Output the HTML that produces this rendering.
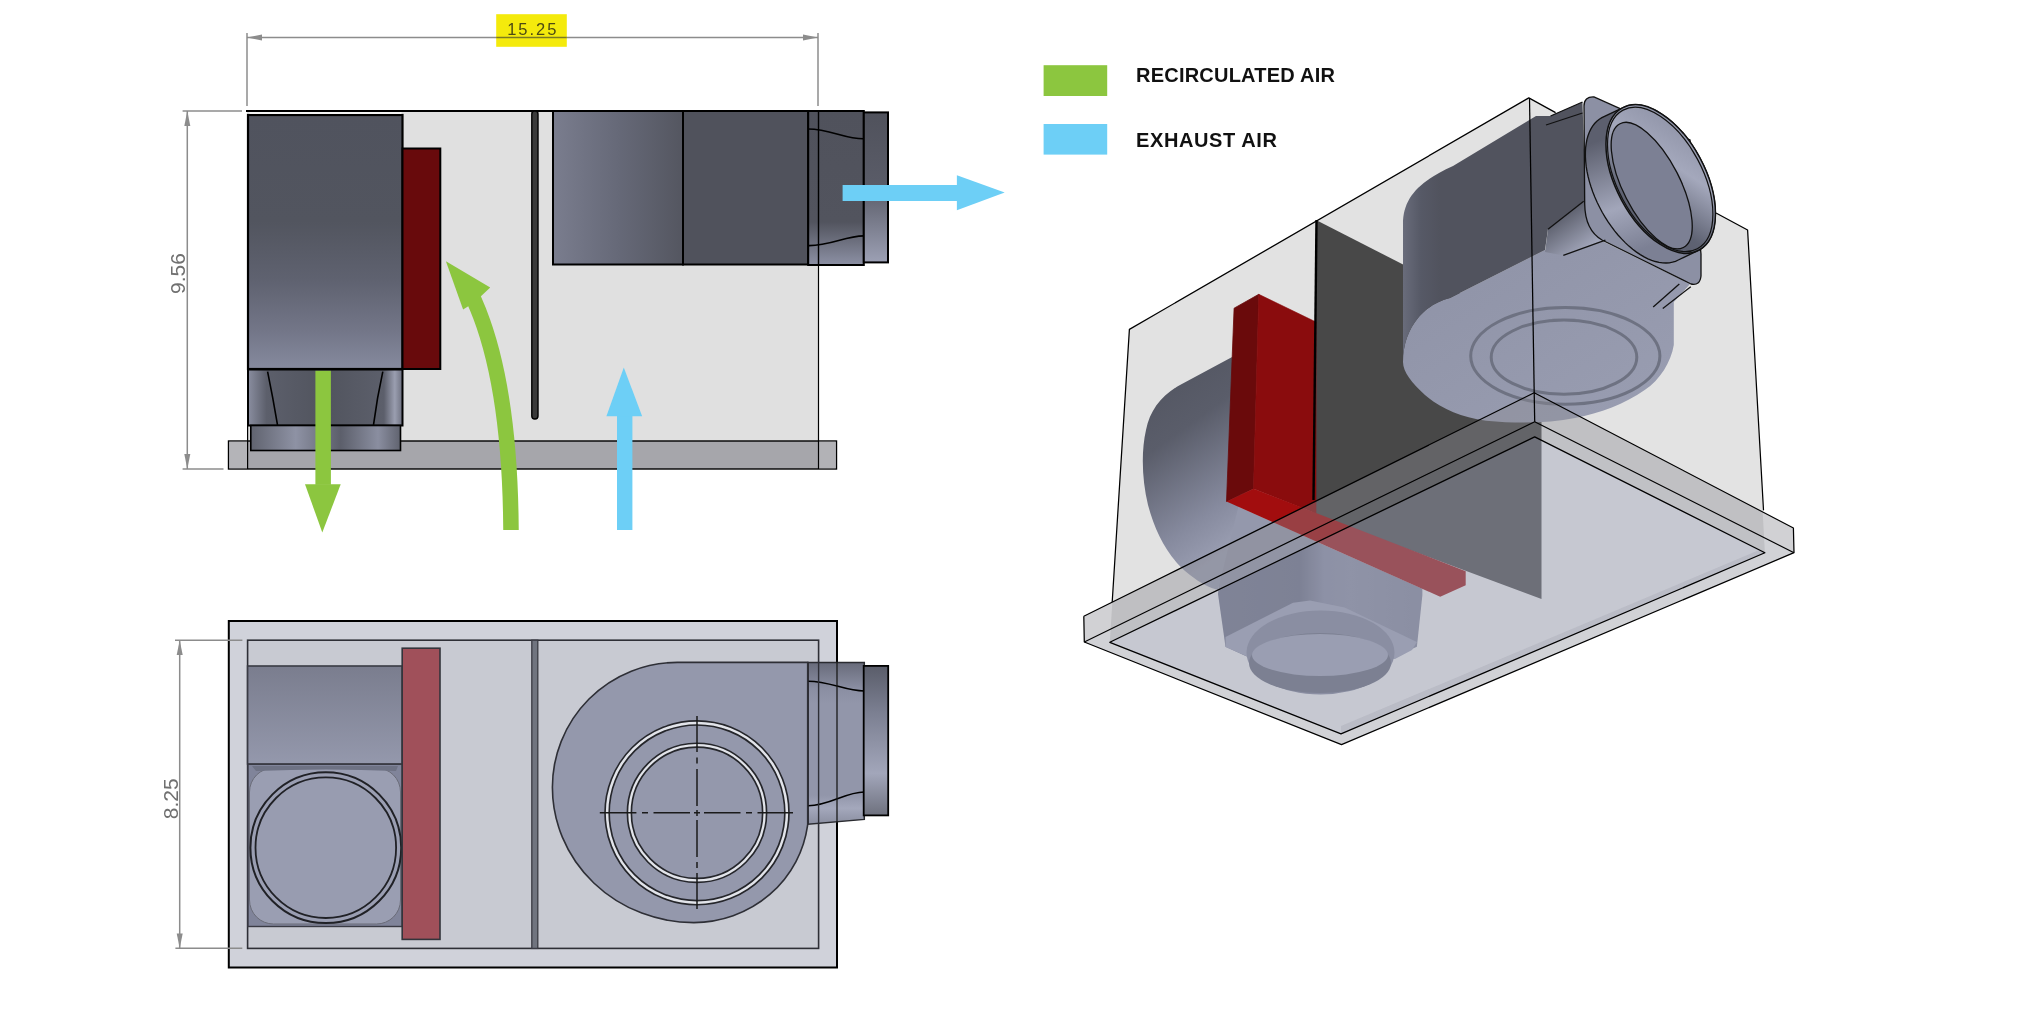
<!DOCTYPE html>
<html><head><meta charset="utf-8">
<style>
html,body{margin:0;padding:0;background:#fff;}
body{width:2040px;height:1020px;overflow:hidden;font-family:"Liberation Sans",sans-serif;}
svg{display:block;will-change:transform;}

.dim{stroke:#8c8c8c;stroke-width:1.5;fill:none;}
.ah{fill:#8c8c8c;}
.k{stroke:#000;fill:none;}
.dimt{font-family:"Liberation Sans",sans-serif;font-size:21px;fill:#707070;}
.leg{font-family:"Liberation Sans",sans-serif;font-size:20px;font-weight:bold;fill:#111;letter-spacing:0.4px;}
</style></head>
<body>
<svg width="2040" height="1020" viewBox="0 0 2040 1020">
<defs>
 <linearGradient id="motorV" x1="0" y1="0" x2="0" y2="1">
  <stop offset="0" stop-color="#50535e"/>
  <stop offset="0.42" stop-color="#52555f"/>
  <stop offset="0.65" stop-color="#5f6270"/>
  <stop offset="0.85" stop-color="#737688"/>
  <stop offset="1" stop-color="#868a9e"/>
 </linearGradient>
 <linearGradient id="fanL" x1="0" y1="0" x2="1" y2="0">
  <stop offset="0" stop-color="#7a7d8e"/>
  <stop offset="0.5" stop-color="#666978"/>
  <stop offset="1" stop-color="#545660"/>
 </linearGradient>
 <linearGradient id="nozV" x1="0" y1="0" x2="0" y2="1">
  <stop offset="0" stop-color="#50525c"/>
  <stop offset="0.72" stop-color="#52545e"/>
  <stop offset="1" stop-color="#8c90a4"/>
 </linearGradient>
 <linearGradient id="flV" x1="0" y1="0" x2="0" y2="1">
  <stop offset="0" stop-color="#50525c"/>
  <stop offset="0.5" stop-color="#5a5c68"/>
  <stop offset="1" stop-color="#9ca0b4"/>
 </linearGradient>
 <linearGradient id="nz1" x1="0" y1="0" x2="1" y2="0">
  <stop offset="0" stop-color="#8a8ea0"/>
  <stop offset="0.12" stop-color="#5c5f6b"/>
  <stop offset="0.5" stop-color="#51545e"/>
  <stop offset="0.88" stop-color="#5c5f6b"/>
  <stop offset="0.95" stop-color="#9a9eb0"/>
  <stop offset="1" stop-color="#6e7180"/>
 </linearGradient>
 <linearGradient id="nz2" x1="0" y1="0" x2="1" y2="0">
  <stop offset="0" stop-color="#60636f"/>
  <stop offset="0.3" stop-color="#8e92a4"/>
  <stop offset="0.6" stop-color="#5c5f6b"/>
  <stop offset="0.85" stop-color="#8a8ea0"/>
  <stop offset="1" stop-color="#60636f"/>
 </linearGradient>
 <linearGradient id="bmotor" x1="0" y1="0" x2="0" y2="1">
  <stop offset="0" stop-color="#7a7d8e"/>
  <stop offset="1" stop-color="#9498ac"/>
 </linearGradient>
 <linearGradient id="bfl" x1="0" y1="0" x2="0" y2="1">
  <stop offset="0" stop-color="#5a5d6a"/>
  <stop offset="0.3" stop-color="#7a7e90"/>
  <stop offset="0.72" stop-color="#a2a6ba"/>
  <stop offset="1" stop-color="#6e717e"/>
 </linearGradient>
 <linearGradient id="bnozV" x1="0" y1="0" x2="0" y2="1">
  <stop offset="0" stop-color="#686b7a"/>
  <stop offset="0.16" stop-color="#8a8ea2"/>
  <stop offset="0.25" stop-color="#9296aa"/>
  <stop offset="0.82" stop-color="#9296aa"/>
  <stop offset="0.9" stop-color="#a4a8bc"/>
  <stop offset="1" stop-color="#8a8ea0"/>
 </linearGradient>
</defs>

<!-- ================= SIDE VIEW ================= -->
<g id="side">
 <!-- dimension 15.25 -->
 <line class="dim" x1="247" y1="33" x2="247" y2="106"/>
 <line class="dim" x1="818" y1="33" x2="818" y2="106"/>
 <line class="dim" x1="247" y1="37.5" x2="818" y2="37.5"/>
 <polygon class="ah" points="247,37.5 262,34.5 262,40.5"/>
 <polygon class="ah" points="818,37.5 803,34.5 803,40.5"/>
 <rect x="496.2" y="14.2" width="70.6" height="32.6" fill="#f4ea0c"/>
 <line x1="496.2" y1="37.5" x2="566.8" y2="37.5" stroke="#7c7a20" stroke-width="1.5"/>
 <text x="532.8" y="34.7" text-anchor="middle" font-size="16.5" letter-spacing="2" fill="#4c4a14" font-family="Liberation Sans, sans-serif">15.25</text>

 <!-- dimension 9.56 -->
 <line class="dim" x1="182.6" y1="111" x2="242" y2="111"/>
 <line class="dim" x1="182.6" y1="469" x2="223.5" y2="469"/>
 <line class="dim" x1="187.3" y1="111" x2="187.3" y2="469"/>
 <polygon class="ah" points="187.3,111 184.3,126 190.3,126"/>
 <polygon class="ah" points="187.3,469 184.3,454 190.3,454"/>
 <text class="dimt" transform="translate(185.2,273.6) rotate(-90)" text-anchor="middle">9.56</text>

 <!-- box body -->
 <rect x="247" y="111" width="571.5" height="330" fill="#e0e0e0"/>
 <line x1="818.5" y1="111" x2="818.5" y2="441" stroke="#000" stroke-width="1.2"/>
 <line x1="246" y1="111" x2="864" y2="111" stroke="#000" stroke-width="2.2"/>

 <!-- base plate -->
 <rect x="228.5" y="441" width="608" height="28" fill="#a6a6ab" stroke="#000" stroke-width="1.4"/>
 <rect x="229.2" y="441.7" width="18" height="26.6" fill="#b4b4b8"/>
 <rect x="818.5" y="441.7" width="17.3" height="26.6" fill="#b2b2b6"/>
 <line x1="818.5" y1="441" x2="818.5" y2="469" stroke="#000" stroke-width="1.2"/>

 <!-- motor -->
 <rect x="248" y="115" width="154.5" height="254" fill="url(#motorV)" stroke="#000" stroke-width="2.2"/>
 <rect x="249.5" y="112" width="152" height="2" fill="#f4f4f4"/>
 <!-- red filter -->
 <rect x="402.5" y="148.5" width="37.8" height="220.5" fill="#680a0c" stroke="#000" stroke-width="2"/>
 <!-- motor nozzle -->
 <rect x="248" y="369.5" width="154.5" height="56" fill="url(#nz1)" stroke="#000" stroke-width="2"/>
 <path d="M267.6,371.6 Q273,398 277.5,424.8 M382.8,371.6 Q377,398 373.5,424.8" class="k" stroke-width="1.6"/>
 <rect x="250.8" y="425.5" width="149.7" height="25" fill="url(#nz2)" stroke="#000" stroke-width="1.6"/>
 <line x1="247.6" y1="425" x2="247.6" y2="469" stroke="#000" stroke-width="1.2"/>

 <!-- divider -->
 <rect x="531.8" y="111" width="6.2" height="308" rx="3" fill="#3a3a3a" stroke="#000" stroke-width="1.4"/>

 <!-- fan housing -->
 <rect x="553" y="111" width="130" height="153.5" fill="url(#fanL)" stroke="#000" stroke-width="2"/>
 <rect x="683" y="111" width="125.2" height="153.5" fill="#50525c" stroke="#000" stroke-width="2"/>
 <!-- nozzle -->
 <rect x="808.2" y="111" width="55.6" height="154" fill="url(#nozV)" stroke="#000" stroke-width="2"/>
 <path d="M808.2,129 C830,129 845,139 863.8,138.8 M808.2,245.6 C830,246 845,236 863.8,235.9" class="k" stroke-width="1.6"/>
 <line x1="818.5" y1="111" x2="818.5" y2="265" stroke="#000" stroke-width="1.4"/>
 <rect x="863.8" y="112.4" width="24.2" height="150" fill="url(#flV)" stroke="#000" stroke-width="2"/>
</g>

<!-- arrows side view -->
<g id="arrows">
 <rect x="315.4" y="370.8" width="15.5" height="114" fill="#8cc63f"/>
 <polygon points="305,484.3 340.7,484.3 322.3,532.6" fill="#8cc63f"/>
 <path d="M511,530 Q510,380 474,300 L471,293.5" fill="none" stroke="#8cc63f" stroke-width="15.5"/>
 <polygon points="445.9,261.2 490.2,287.5 481.2,296 467.5,306.7 463.1,309.4" fill="#8cc63f"/>
 <rect x="617" y="415" width="15.4" height="115" fill="#6dcff6"/>
 <polygon points="606.4,416.2 642.2,416.2 623.8,367.6" fill="#6dcff6"/>
 <rect x="842.6" y="185" width="115" height="16" fill="#6dcff6"/>
 <polygon points="956.9,175.2 956.9,210.3 1004.7,192.4" fill="#6dcff6"/>
</g>

<!-- ================= BOTTOM VIEW ================= -->
<g id="bottom">
 <line class="dim" x1="179.7" y1="640.2" x2="179.7" y2="948.3"/>
 <polygon class="ah" points="179.7,640.2 176.7,655 182.7,655"/>
 <polygon class="ah" points="179.7,948.3 176.7,933.5 182.7,933.5"/>
 <text class="dimt" transform="translate(177.8,798.8) rotate(-90)" text-anchor="middle">8.25</text>

 <rect x="228.8" y="621" width="608.2" height="346.5" fill="#d0d2da" stroke="#000" stroke-width="2"/>
 <rect x="247.6" y="640.2" width="571" height="308.2" fill="#c8cad2" stroke="#2e2f36" stroke-width="1.6"/>
 <line class="dim" x1="175" y1="640.2" x2="242.4" y2="640.2"/>
 <line class="dim" x1="175.4" y1="948.3" x2="242.3" y2="948.3"/>

 <!-- motor block -->
 <rect x="247.6" y="666" width="154.6" height="98" fill="url(#bmotor)" stroke="#3a3b44" stroke-width="1.6"/>
 <!-- motor front -->
 <rect x="248" y="764.3" width="154.3" height="162.2" fill="#80849a" stroke="#3a3b44" stroke-width="1.4"/>
 <rect x="249.5" y="768" width="151" height="156" rx="24" fill="#9a9eb2" stroke="#6a6c78" stroke-width="1"/>
 <path d="M252,766 H398 L396,771 Q326,768 256,771 Z" fill="#6e7284"/>
 <circle cx="325.8" cy="847.7" r="75.4" fill="#9a9eb2" stroke="#202126" stroke-width="2"/>
 <circle cx="325.8" cy="847.7" r="70.3" fill="#989cb0" stroke="#202126" stroke-width="1.8"/>
 <!-- red filter -->
 <rect x="402.2" y="648.2" width="37.8" height="291.2" fill="#a0505a" stroke="#33343b" stroke-width="1.6"/>
 <!-- divider -->
 <rect x="531.8" y="640.2" width="6" height="308.2" fill="#70747f" stroke="#3a3b44" stroke-width="1.3"/>
 <!-- fan nozzle + flange -->
 <path d="M808.2,662.5 L864.3,662.5 L864.3,819.4 L808.2,824.3 Z" fill="url(#bnozV)" stroke="#2a2b30" stroke-width="1.5"/>
 <path d="M808.2,681.2 C830,681.2 845,691 864.3,691 M808.2,805.7 C830,805.7 845,792 864.3,792" class="k" stroke-width="1.6"/>
 <line x1="837" y1="662" x2="837" y2="822" stroke="#1a1a1a" stroke-width="1.3"/>
 <rect x="863.7" y="665.9" width="24.5" height="149.5" fill="url(#bfl)" stroke="#000" stroke-width="1.8"/>
 <!-- fan housing scroll -->
 <path d="M807.7,662.4 L677.3,662.4 A125,125 0 0 0 552.4,787.3 A141.4,135.3 0 0 0 693.8,922.6 A115,112 0 0 0 807.7,824.4 Z" fill="#9498ac" stroke="#2e2f36" stroke-width="1.6"/>
 <line x1="818.6" y1="662" x2="818.6" y2="824" stroke="#2e2f36" stroke-width="1.4"/>
 <!-- rings -->
 <g fill="none">
  <circle cx="697" cy="812.8" r="89.9" stroke="#25262b" stroke-width="5.8"/>
  <circle cx="697" cy="812.8" r="89.9" stroke="#e2e4ea" stroke-width="2.5"/>
  <circle cx="697" cy="812.8" r="67.6" stroke="#25262b" stroke-width="5.6"/>
  <circle cx="697" cy="812.8" r="67.6" stroke="#e2e4ea" stroke-width="2.3"/>
 </g>
 <g stroke="#1a1a1a" stroke-width="1.5" fill="none">
  <path d="M599.8,812.8 H636.4 M642,812.8 H648 M653.5,812.8 H690 M694,812.8 H700 M704,812.8 H740.5 M746,812.8 H752 M757.5,812.8 H793"/>
  <path d="M697,716 V752 M697,757.5 V763.5 M697,769 V806 M697,810 V816 M697,820 V857 M697,862 V868 M697,873 V909"/>
 </g>
</g>

<!-- ================= LEGEND ================= -->
<rect x="1043.6" y="65.2" width="63.6" height="30.8" fill="#8cc63f"/>
<rect x="1043.6" y="124" width="63.6" height="30.6" fill="#6dcff6"/>
<text class="leg" x="1136" y="82.2" style="letter-spacing:0.22px">RECIRCULATED AIR</text>
<text class="leg" x="1136" y="146.8" style="letter-spacing:0.6px">EXHAUST AIR</text>

<!-- ================= ISO VIEW ================= -->
<g id="iso">
 <defs>
  <linearGradient id="isoMotor" x1="0" y1="0" x2="0.3" y2="1">
   <stop offset="0" stop-color="#50535e"/>
   <stop offset="0.4" stop-color="#5a5d6a"/>
   <stop offset="0.8" stop-color="#868a9e"/>
   <stop offset="1" stop-color="#9a9eb2"/>
  </linearGradient>
  <linearGradient id="isoBody" gradientUnits="userSpaceOnUse" x1="1220" y1="0" x2="1420" y2="0">
   <stop offset="0" stop-color="#6e7288"/>
   <stop offset="0.4" stop-color="#6a6e84"/>
   <stop offset="0.52" stop-color="#8a8ea6"/>
   <stop offset="0.65" stop-color="#8e92a8"/>
   <stop offset="1" stop-color="#868aa0"/>
  </linearGradient>
  <linearGradient id="isoHouse" gradientUnits="userSpaceOnUse" x1="1402" y1="0" x2="1440" y2="0">
   <stop offset="0" stop-color="#6a6d7c"/>
   <stop offset="0.5" stop-color="#565966"/>
   <stop offset="1" stop-color="#51535e"/>
  </linearGradient>
  <linearGradient id="isoFanBot" x1="0" y1="0" x2="1" y2="1">
   <stop offset="0" stop-color="#8e92a6"/>
   <stop offset="1" stop-color="#9a9eb2"/>
  </linearGradient>
  <linearGradient id="isoOutlet" x1="0" y1="0" x2="1" y2="0">
   <stop offset="0" stop-color="#787c8e"/>
   <stop offset="0.45" stop-color="#7c8092"/>
   <stop offset="0.6" stop-color="#8e92a6"/>
   <stop offset="1" stop-color="#8a8ea2"/>
  </linearGradient>
  <linearGradient id="tubeG" gradientUnits="userSpaceOnUse" x1="1600" y1="140" x2="1640" y2="250">
   <stop offset="0" stop-color="#5c5f6e"/>
   <stop offset="0.6" stop-color="#a2a6ba"/>
   <stop offset="1" stop-color="#7c8094"/>
  </linearGradient>
  <linearGradient id="rimG" gradientUnits="userSpaceOnUse" x1="1640" y1="110" x2="1710" y2="240">
   <stop offset="0" stop-color="#8a8ea2"/>
   <stop offset="0.35" stop-color="#a4a8bc"/>
   <stop offset="0.7" stop-color="#5e6272"/>
   <stop offset="1" stop-color="#585b6a"/>
  </linearGradient>
  <linearGradient id="neckG" gradientUnits="userSpaceOnUse" x1="1560" y1="215" x2="1585" y2="250">
   <stop offset="0" stop-color="#5a5d6a"/>
   <stop offset="1" stop-color="#a2a6ba"/>
  </linearGradient>
 </defs>
 <!-- box faces (extend to flange bottom) -->
 <polygon points="1129.4,329.4 1528.8,97.9 1534.7,436.9 1109.8,642.3" fill="#e2e2e2"/>
 <polygon points="1528.8,97.9 1555.6,112.6 1716,213 1747.6,230 1764.9,552.8 1534.7,436.9" fill="#e3e3e3"/>

 <!-- divider panel -->
 <polygon points="1316,220 1541.5,335 1541.5,599 1313,514" fill="#484848"/>

 <!-- motor body under filter -->
 <path d="M1218,594 L1218.4,590 L1317.3,542 L1422.4,588.7 L1422.4,594.9 L1416.9,646.7 L1320,690 L1225.5,646.7 Z" fill="url(#isoBody)"/>
 <path d="M1218.4,590.5 L1226.5,501.5 L1317.3,542 Z" fill="#9498ac" stroke="#9498ac" stroke-width="0.6"/>
 <!-- motor scroll -->
 <path d="M1234,356 L1180,385 C1162,395 1150,410 1146,430 C1141,452 1142,480 1148,505 C1156,535 1170,560 1190,575 C1200,583 1210,588 1218,590 L1240,500 L1240,356 Z" fill="url(#isoMotor)"/>

 <!-- red filter -->
 <polygon points="1234.1,308.2 1258.8,294.3 1253.5,488.8 1226.5,501.5" fill="#6a0a0b" stroke="#6a0a0b" stroke-width="0.8"/>
 <polygon points="1258.8,294.3 1316,322 1316,513.6 1253.5,488.8" fill="#8a0c0d" stroke="#8a0c0d" stroke-width="0.6"/>
 <polygon points="1226.5,501.5 1253.5,488.8 1465.7,571.2 1465.7,585.3 1440.2,596.8" fill="#a20d0e"/>

 <!-- fan housing: bottom face -->
 <path d="M1403,362 C1403,330 1422,305 1450,298 L1545,250 L1600,240 L1690,284 L1673.8,302 L1673.8,345 C1671,362 1660,380 1644.7,390 C1625,404 1600,413 1575,418 C1550,423 1520,424 1486,420.7 C1460,417 1440,408 1425,395 C1412,383 1403,372 1403,362 Z" fill="url(#isoFanBot)"/>
 <!-- fan housing: dark side -->
 <path d="M1403,362 L1403,224 C1403,197 1420,181 1453,166 L1536,116 L1550,116 L1582.5,102 L1586,215 L1548,229 L1545,250 L1450,298 C1422,305 1403,330 1403,362 Z" fill="url(#isoHouse)"/>
 <!-- rings on fan bottom -->
 <ellipse cx="1565.3" cy="355.9" rx="94.6" ry="48.3" fill="none" stroke="#6e7282" stroke-width="3"/>
 <ellipse cx="1564" cy="357.2" rx="72.8" ry="37.1" fill="none" stroke="#6e7282" stroke-width="3"/>

 <!-- neck lower light -->
 <path d="M1548,229.3 L1583.7,201.3 L1606,239 L1563.3,255.4 L1545,252 Z" fill="url(#neckG)"/>
 <!-- collar -->
 <path d="M1584,106 Q1584,96.5 1594,97 L1690,140 L1701,254 L1701,276 Q1700,286 1691,284 L1602,240 Q1585,230 1584.7,204 Z" fill="#8c90a4" stroke="#111" stroke-width="1.3"/>
 <!-- tube -->
 <path d="M1585.4,152.2 L1585.6,147.8 L1586.2,143.6 L1586.9,139.6 L1588.0,135.8 L1589.3,132.3 L1590.8,129.1 L1592.6,126.1 L1594.6,123.5 L1596.8,121.2 L1599.3,119.2 L1601.9,117.6 L1622.5,107.8 L1625.3,106.5 L1628.3,105.6 L1631.5,105.0 L1634.8,104.8 L1638.2,104.9 L1641.8,105.4 L1645.4,106.3 L1649.1,107.5 L1652.9,109.0 L1656.7,110.9 L1660.5,113.2 L1664.3,115.7 L1668.1,118.6 L1671.9,121.7 L1675.6,125.2 L1679.2,128.9 L1682.8,132.8 L1686.2,137.0 L1689.5,141.4 L1692.7,145.9 L1695.7,150.6 L1698.6,155.5 L1701.2,160.5 L1703.7,165.5 L1706.0,170.7 L1708.0,175.8 L1709.8,181.0 L1711.4,186.2 L1712.7,191.3 L1713.8,196.4 L1714.6,201.4 L1715.1,206.3 L1715.4,211.0 L1715.4,215.6 L1715.2,220.0 L1714.6,224.2 L1713.9,228.2 L1712.8,232.0 L1711.5,235.5 L1710.0,238.7 L1708.2,241.7 L1706.2,244.3 L1704.0,246.6 L1701.5,248.6 L1698.9,250.2 L1678.3,260.0 L1675.5,261.3 L1672.5,262.2 L1669.3,262.8 L1666.0,263.0 L1662.6,262.9 L1659.0,262.4 L1655.4,261.5 L1651.7,260.3 L1647.9,258.8 L1644.1,256.9 L1640.3,254.6 L1636.5,252.1 L1632.7,249.2 L1628.9,246.1 L1625.2,242.6 L1621.6,238.9 L1618.0,235.0 L1614.6,230.8 L1611.3,226.4 L1608.1,221.9 L1605.1,217.2 L1602.2,212.3 L1599.6,207.3 L1597.1,202.3 L1594.8,197.1 L1592.8,192.0 L1591.0,186.8 L1589.4,181.6 L1588.1,176.5 L1587.0,171.4 L1586.2,166.4 L1585.7,161.5 L1585.4,156.8 Z" fill="url(#tubeG)" stroke="#111" stroke-width="1.3"/>
 <ellipse cx="1660.7" cy="179.0" rx="80.8" ry="44.5" transform="rotate(61.8 1660.7 179.0)" fill="url(#rimG)" stroke="#111" stroke-width="1.5"/>
 <ellipse cx="1660.2" cy="179.4" rx="78.6" ry="42.4" transform="rotate(61.8 1660.2 179.4)" fill="none" stroke="#111" stroke-width="1.2"/>
 <ellipse cx="1651.7" cy="185.6" rx="69.5" ry="28.4" transform="rotate(62.9 1651.7 185.6)" fill="#7c8094" stroke="#111" stroke-width="1.3"/>
 <g stroke="#111" stroke-width="1.3" fill="none">
  <line x1="1550.6" y1="116" x2="1582.5" y2="102"/>
  <line x1="1546" y1="125" x2="1582.5" y2="113"/>
  <line x1="1548" y1="229.3" x2="1583.7" y2="201.3"/>
  <line x1="1563.3" y1="255.4" x2="1605.4" y2="240.2"/>
  <line x1="1679.3" y1="284.1" x2="1653.2" y2="307.1"/>
  <line x1="1690.8" y1="286.7" x2="1662.8" y2="308.4"/>
 </g>

 <!-- flange overlays -->
 <polygon points="1083.8,616.3 1534.2,392.7 1534.7,421.7 1084.3,641.8" fill="rgb(141,141,147)" fill-opacity="0.4"/>
 <polygon points="1534.2,392.7 1793.4,528 1794,552.7 1534.7,421.7" fill="rgb(141,141,147)" fill-opacity="0.4"/>
 <path d="M1084.3,642 L1534.7,421.7 L1794,552.7 L1341.5,744.7 Z M1109.8,642.3 L1341,733.9 L1764.9,552.8 L1534.7,436.9 Z" fill="rgb(140,142,152)" fill-opacity="0.4" fill-rule="evenodd"/>
 <polygon points="1109.8,642.3 1534.7,436.9 1764.9,552.8 1341,733.9" fill="rgb(144,147,166)" fill-opacity="0.514"/>

 <polygon points="1341,733.9 1764.9,552.8 1758,550.5 1341,726" fill="rgb(110,112,126)" fill-opacity="0.14"/>
 <!-- motor outlet (below flange) -->
 <polygon points="1225.5,637 1293,602.7 1310,600.4 1344.7,607.5 1416.9,642 1412,650 1395,659 1246,656 1225.5,647" fill="#9a9eb2"/>
 <ellipse cx="1320.5" cy="652.5" rx="74" ry="42" fill="#8a8ea2"/>
 <ellipse cx="1320" cy="663" rx="71" ry="30" fill="#7c8092"/>
 <ellipse cx="1320" cy="655" rx="68" ry="21" fill="#9a9eb2"/>

 <!-- edges -->
 <g stroke="#000" stroke-width="1.25" fill="none" stroke-linejoin="round">
  <polyline points="1112.2,602 1129.4,329.4 1528.8,97.9 1555.6,112.6"/>
  <polyline points="1716,213 1747.6,230 1763.5,510.4"/>
  <line x1="1529.5" y1="97.9" x2="1534.2" y2="392.7"/>
  <polyline points="1083.8,616.3 1534.2,392.7 1793.4,528 1794,552.7 1341.5,744.7 1084.3,642 1083.8,616.3"/>
  <polyline points="1084.3,642 1534.7,421.7 1794,552.7"/>
  <line x1="1534.2" y1="392.7" x2="1534.7" y2="421.7"/>
  <polygon points="1109.8,642.3 1534.7,436.9 1764.9,552.8 1341,733.9"/>
  <line x1="1316.5" y1="220" x2="1313.5" y2="500" stroke-width="2.4"/>
 </g>
</g>
</svg>
</body></html>
